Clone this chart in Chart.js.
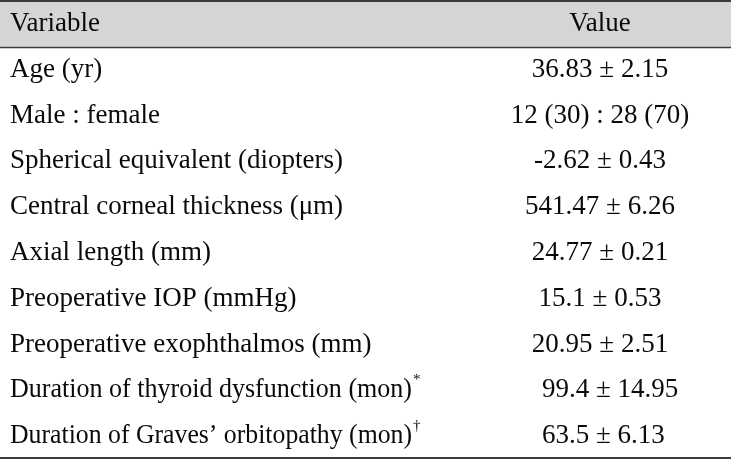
<!DOCTYPE html>
<html>
<head>
<meta charset="utf-8">
<script src="https://cdn.jsdelivr.net/npm/chart.js@4"></script>
<style>
  html, body { margin: 0; padding: 0; background: #ffffff; }
  #wrap { width: 731px; height: 460px; position: relative; }
</style>
</head>
<body>
<div id="wrap"><canvas id="tableChart"></canvas></div>
<script>
"use strict";

/* global Chart */

// Table content
const headers = ["Variable", "Value"];
const variables = [
    "Age (yr)",
    "Male : female",
    "Spherical equivalent (diopters)",
    "Central corneal thickness (\u03bcm)",
    "Axial length (mm)",
    "Preoperative IOP (mmHg)",
    "Preoperative exophthalmos (mm)",
    "Duration of thyroid dysfunction (mon)",
    "Duration of Graves\u2019 orbitopathy (mon)"
];
const values = [
    "36.83 \u00b1 2.15",
    "12 (30) : 28 (70)",
    "-2.62 \u00b1 0.43",
    "541.47 \u00b1 6.26",
    "24.77 \u00b1 0.21",
    "15.1 \u00b1 0.53",
    "20.95 \u00b1 2.51",
    "\u00a0\u00a0\u00a099.4 \u00b1 14.95",
    "\u00a063.5 \u00b1 6.13"
];
const footnoteMarks = ["", "", "", "", "", "", "", "*", "\u2020"];

// Layout / style
const FONT = "27px 'Liberation Serif', 'Times New Roman', serif";
const MARK_FONT = "15px 'Liberation Serif', 'Times New Roman', serif";
const TEXT_COLOR = "#0a0a0a";
const RULE_COLOR = "#3c3c3c";
const HEADER_BG = "#d5d5d5";
const LEFT_X = 10;
const LABEL_MAX_W = 402; // first column width, long labels get squeezed
const VALUE_COL = 600;

const rowLabels = [headers[0]].concat(variables);

// ===========================
// Plugin: draws header band, rules and cell texts via scales
// ===========================
const tablePlugin = {
    id: "tablePlugin",
    beforeDatasetsDraw(chart) {
        const { ctx, scales: { x, y }, chartArea } = chart;
        const band = y.getPixelForValue(1) - y.getPixelForValue(0);
        const headTop = y.getPixelForValue(0) - band / 2;
        const headBottom = y.getPixelForValue(0) + band / 2 + 1;
        const bottom = y.getPixelForValue(rowLabels.length - 1) + band / 2;

        ctx.save();
        // header band
        ctx.fillStyle = HEADER_BG;
        ctx.fillRect(chartArea.left, headTop, chartArea.right - chartArea.left, headBottom - headTop);

        // rules
        ctx.strokeStyle = RULE_COLOR;
        ctx.lineWidth = 2;
        ctx.beginPath();
        ctx.moveTo(chartArea.left, headTop + 1);
        ctx.lineTo(chartArea.right, headTop + 1);
        ctx.stroke();

        ctx.lineWidth = 1.5;
        ctx.beginPath();
        ctx.moveTo(chartArea.left, headBottom + 0.75);
        ctx.lineTo(chartArea.right, headBottom + 0.75);
        ctx.stroke();

        ctx.lineWidth = 2;
        ctx.beginPath();
        ctx.moveTo(chartArea.left, bottom);
        ctx.lineTo(chartArea.right, bottom);
        ctx.stroke();

        // texts
        ctx.fillStyle = TEXT_COLOR;
        ctx.textBaseline = "middle";
        const valueX = x.getPixelForValue(VALUE_COL);
        rowLabels.forEach((label, i) => {
            const cy = y.getPixelForValue(i) + 1;
            ctx.font = FONT;
            ctx.textAlign = "left";
            ctx.fillText(label, LEFT_X, cy, LABEL_MAX_W);

            const v = i === 0 ? headers[1] : values[i - 1];
            ctx.textAlign = "center";
            ctx.fillText(v, valueX, cy);

            const mark = i === 0 ? "" : footnoteMarks[i - 1];
            if (mark) {
                const w = Math.min(ctx.measureText(label).width, LABEL_MAX_W);
                ctx.font = MARK_FONT;
                ctx.textAlign = "left";
                ctx.fillText(mark, LEFT_X + w + 1, cy - 10);
            }
        });
        ctx.restore();
    }
};

document.addEventListener("DOMContentLoaded", function () {
    const ctx = document.getElementById("tableChart").getContext("2d");

    new Chart(ctx, {
        type: "bar",
        data: {
            labels: rowLabels,
            datasets: [{
                data: rowLabels.map(() => null),
                backgroundColor: "rgba(0,0,0,0)"
            }]
        },
        options: {
            indexAxis: "y",
            responsive: true,
            maintainAspectRatio: false,
            animation: false,
            layout: { padding: { top: 0, bottom: 2, left: 0, right: 0 } },
            scales: {
                x: { type: "linear", min: 0, max: 731, display: false },
                y: { type: "category", display: false, offset: true }
            },
            plugins: {
                legend: { display: false },
                tooltip: { enabled: false }
            }
        },
        plugins: [tablePlugin]
    });
});
</script>
</body>
</html>
